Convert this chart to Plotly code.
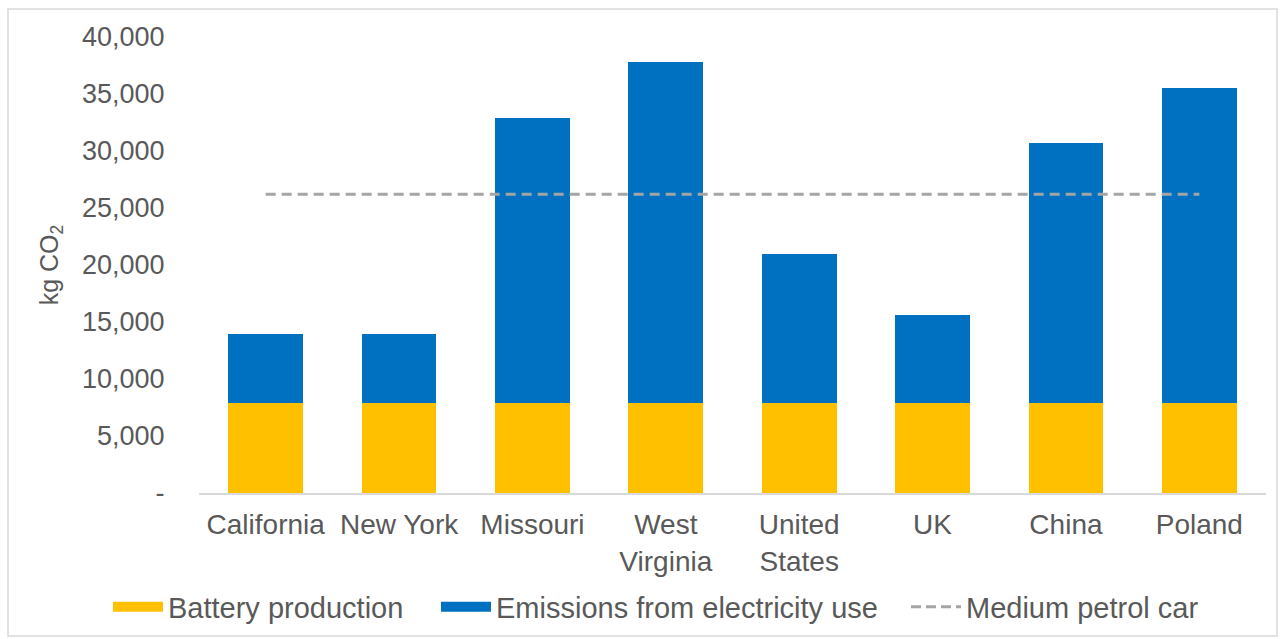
import plotly.graph_objects as go

categories = ["California", "New York", "Missouri", "West<br>Virginia",
              "United<br>States", "UK", "China", "Poland"]
battery_production = [7900, 7900, 7900, 7900, 7900, 7900, 7900, 7900]
electricity_use = [6050, 6020, 24970, 29930, 13070, 7690, 22830, 27600]
petrol_car = [26200] * len(categories)

y_tickvals = [0, 5000, 10000, 15000, 20000, 25000, 30000, 35000, 40000]
y_ticktext = ["-", "5,000", "10,000", "15,000", "20,000", "25,000",
              "30,000", "35,000", "40,000"]

YELLOW = "#FFC000"
BLUE = "#0070C0"
GRAY = "#A5A5A5"
TXT = "#595959"
FONT = "Liberation Sans, Arial, sans-serif"
FS = 27
LFS = 29

fig = go.Figure()
fig.add_trace(go.Bar(x=categories, y=battery_production, marker_color=YELLOW,
                     marker_line_width=0, name="Battery production", showlegend=False))
fig.add_trace(go.Bar(x=categories, y=electricity_use, marker_color=BLUE,
                     marker_line_width=0, name="Emissions from electricity use", showlegend=False))
fig.add_trace(go.Scatter(x=categories, y=petrol_car, mode="lines",
                         line=dict(color=GRAY, width=3, dash="10px,6px"),
                         name="Medium petrol car", showlegend=False))

# legend proxies, one legend each so they can be positioned like the reference
fig.add_trace(go.Scatter(x=[None], y=[None], mode="lines", legend="legend",
                         line=dict(color=YELLOW, width=13), name="Battery production"))
fig.add_trace(go.Scatter(x=[None], y=[None], mode="lines", legend="legend2",
                         line=dict(color=BLUE, width=13), name="Emissions from electricity use"))
fig.add_trace(go.Scatter(x=[None], y=[None], mode="lines", legend="legend3",
                         line=dict(color=GRAY, width=3, dash="10px,5px"), name="Medium petrol car"))

L, R, T, B = 199, 17, 37, 146
W, H = 1283, 639
pw, ph = W - L - R, H - T - B

def px_x(px):
    return (px - L) / pw

def px_y(py):
    return (H - B - py) / ph

def leg(xpx):
    return dict(orientation="h", x=px_x(xpx), xanchor="left",
                y=px_y(607), yanchor="middle",
                font=dict(size=LFS, color=TXT), itemwidth=50,
                bgcolor="rgba(0,0,0,0)")

fig.update_layout(
    width=W, height=H,
    margin=dict(l=L, r=R, t=T, b=B, autoexpand=False),
    barmode="stack", bargap=0.44,
    plot_bgcolor="white", paper_bgcolor="white",
    font=dict(family=FONT, color=TXT, size=FS),
    legend=leg(108), legend2=leg(436), legend3=leg(906),
    shapes=[dict(type="rect", xref="paper", yref="paper",
                 x0=px_x(8), x1=px_x(1277), y0=px_y(636), y1=px_y(9),
                 line=dict(color="#D9D9D9", width=1.5), layer="below")],
)
fig.update_xaxes(showline=True, linecolor="#D9D9D9", linewidth=1.5, automargin=False,
                 showgrid=False, ticks="outside", ticklen=6,
                 tickcolor="rgba(0,0,0,0)", tickfont=dict(size=28, color=TXT))
fig.update_yaxes(range=[0, 40000], tickvals=y_tickvals, ticktext=y_ticktext,
                 automargin=False,
                 showgrid=False, zeroline=False, showline=False,
                 ticks="outside", ticklen=28, tickcolor="rgba(0,0,0,0)",
                 tickfont=dict(size=FS, color=TXT),
                 title=dict(text="kg CO<sub>2</sub>", font=dict(size=25, color=TXT), standoff=16))

fig.write_html("out.html")
